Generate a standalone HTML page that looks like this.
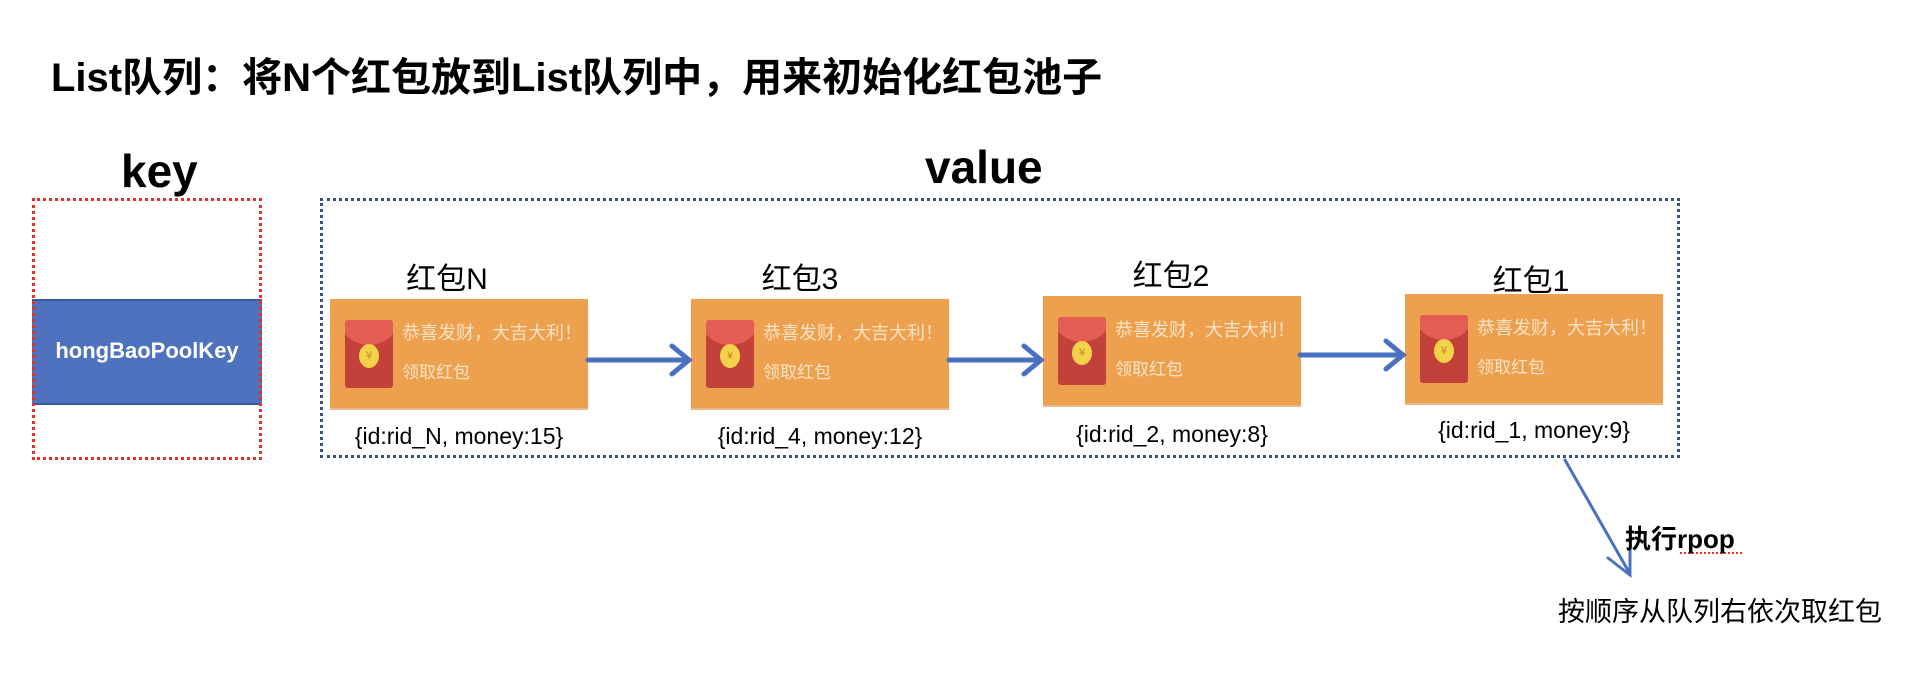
<!DOCTYPE html>
<html><head><meta charset="utf-8"><style>
body{margin:0;width:1912px;height:674px;background:#fff;position:relative;overflow:hidden;font-family:"Liberation Sans","Noto Sans CJK SC",sans-serif;}
.a{position:absolute;white-space:nowrap}
.card{position:absolute;width:258px;height:109px;background:#EDA14E;border-bottom:2px solid #e6b98a}
.env{position:absolute;left:15px;top:21px;width:48px;height:68px;background:#c2413b;border-radius:3px;overflow:hidden}
.env:before{content:"";position:absolute;left:-6px;top:-30px;width:60px;height:55px;border-radius:50%;background:#e35d55}
.env:after{content:"¥";position:absolute;left:14px;top:24px;width:20px;height:24px;border-radius:50%;background:#f3d24a;color:#c28a2a;font-size:11px;text-align:center;line-height:24px}
.t1{position:absolute;left:72px;top:20px;font-size:18px;color:#fbe3c8}
.t2{position:absolute;left:72px;top:59px;font-size:17px;color:#fbe3c8}
.lab{position:absolute;font-size:30px;width:258px;text-align:center}
.cap{position:absolute;font-size:23px;width:300px;text-align:center}
</style></head><body>
<div class="a" style="left:51px;top:45px;font-size:40px;font-weight:bold">List队列：将N个红包放到List队列中，用来初始化红包池子</div>
<div class="a" style="left:121px;top:144px;font-size:46px;font-weight:bold">key</div>
<div class="a" style="left:925px;top:140px;font-size:46px;font-weight:bold">value</div>
<div class="a" style="left:32px;top:299px;width:230px;height:106px;background:#4e72be;border-top:2px solid #3b5aa0;border-bottom:2px solid #3b5aa0;box-sizing:border-box"></div>
<div class="a" style="left:32px;top:338px;width:230px;text-align:center;color:#fff;font-weight:bold;font-size:22px">hongBaoPoolKey</div>
<div class="a" style="left:32px;top:198px;width:230px;height:262px;border:3px dotted #e8302a;box-sizing:border-box"></div>
<div class="a" style="left:320px;top:198px;width:1360px;height:260px;border:3px dotted #34508f;box-sizing:border-box"></div>

<div class="lab" style="left:318px;top:254px">红包N</div>
<div class="card" style="left:330px;top:299px"><div class="env"></div><div class="t1">恭喜发财，大吉大利！</div><div class="t2">领取红包</div></div>
<div class="cap" style="left:309px;top:423px">{id:rid_N, money:15}</div>

<div class="lab" style="left:671px;top:254px">红包3</div>
<div class="card" style="left:691px;top:299px"><div class="env"></div><div class="t1">恭喜发财，大吉大利！</div><div class="t2">领取红包</div></div>
<div class="cap" style="left:670px;top:423px">{id:rid_4, money:12}</div>

<div class="lab" style="left:1042px;top:251px">红包2</div>
<div class="card" style="left:1043px;top:296px"><div class="env"></div><div class="t1">恭喜发财，大吉大利！</div><div class="t2">领取红包</div></div>
<div class="cap" style="left:1022px;top:421px">{id:rid_2, money:8}</div>

<div class="lab" style="left:1402px;top:256px">红包1</div>
<div class="card" style="left:1405px;top:294px"><div class="env"></div><div class="t1">恭喜发财，大吉大利！</div><div class="t2">领取红包</div></div>
<div class="cap" style="left:1384px;top:417px">{id:rid_1, money:9}</div>

<svg class="a" style="left:0;top:0" width="1912" height="674">
<g stroke="#4a70c0" stroke-width="5" fill="none" stroke-linecap="round">
<line x1="588" y1="360" x2="688" y2="360"/><polyline points="672,346 689,360 672,374"/>
<line x1="949" y1="360" x2="1040" y2="360"/><polyline points="1024,346 1041,360 1024,374"/>
<line x1="1300" y1="355" x2="1402" y2="355"/><polyline points="1386,341 1403,355 1386,369"/>
</g>
<g stroke="#4a70c0" stroke-width="3" fill="none" stroke-linecap="round">
<line x1="1565" y1="460" x2="1630" y2="574"/><polyline points="1608,558 1630,575 1630,548"/>
</g>
<line x1="1680" y1="553" x2="1742" y2="553" stroke="#e8302a" stroke-width="2" stroke-dasharray="2,2"/>
</svg>
<div class="a" style="left:1625px;top:519px;font-size:26px;font-weight:bold">执行rpop</div>
<div class="a" style="left:1558px;top:590px;font-size:27px">按顺序从队列右依次取红包</div>
</body></html>
